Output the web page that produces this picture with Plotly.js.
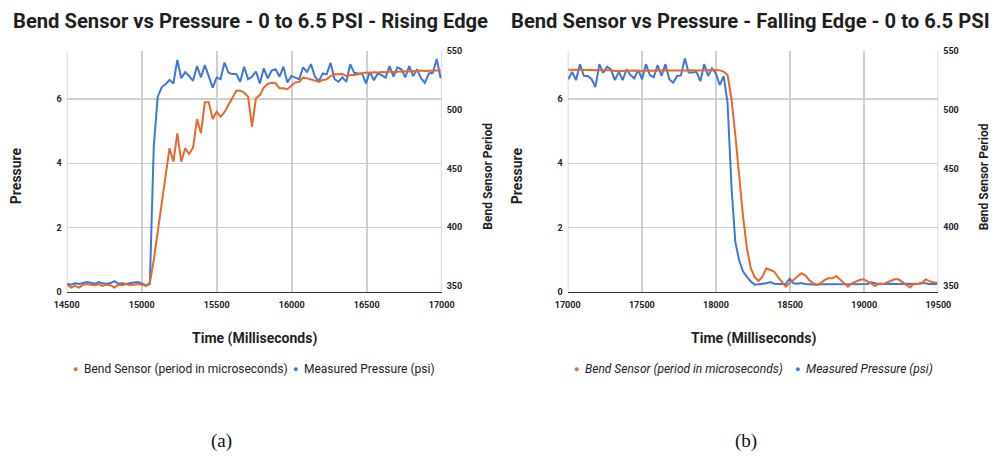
<!DOCTYPE html>
<html>
<head>
<meta charset="utf-8">
<script src="https://cdn.plot.ly/plotly-3.0.1.min.js"></script>
<style>
  html, body { margin: 0; padding: 0; background: #ffffff; }
  #chart { width: 998px; height: 457px; }
</style>
</head>
<body>
<div id="chart"></div>
<script>
// ---------------- DATA ----------------
const seriesNames = ["Bend Sensor (period in microseconds)", "Measured Pressure (psi)"];
const chartTitles = ["Bend Sensor vs Pressure - 0 to 6.5 PSI - Rising Edge",
                     "Bend Sensor vs Pressure - Falling Edge - 0 to 6.5 PSI"];
const xAxisTitle = "Time (Milliseconds)";
const leftAxisTitle = "Pressure";
const rightAxisTitle = "Bend Sensor Period";
const captions = ["(a)", "(b)"];

// sample spacing (ms) and first sample time of each recording
const sampleStepMs = 26.2;
const riseStartMs = 14504;
const fallStartMs = 17004;

const riseTicks = [14500, 15000, 15500, 16000, 16500, 17000];
const fallTicks = [17000, 17500, 18000, 18500, 19000, 19500];
const pressureTicks = [0, 2, 4, 6];
const periodTicks = [350, 400, 450, 500, 550];

// Rising edge: measured pressure (psi)
const risePressure = [
  0.25, 0.22, 0.26, 0.24, 0.27, 0.30, 0.28, 0.25, 0.30, 0.26, 0.25, 0.27, 0.33, 0.25, 0.26, 0.24,
  0.27, 0.28, 0.30, 0.26, 0.20, 0.23,
  4.52, 6.07, 6.37, 6.46, 6.60, 6.49,
  7.22, 6.65, 6.84, 6.72, 6.57, 7.03, 6.68, 7.06, 6.70, 6.36, 6.67, 6.62, 7.14, 6.82, 6.78, 6.78,
  6.54, 7.01, 6.62, 6.70, 6.86, 6.49, 6.96, 6.65, 6.89, 6.93, 6.70, 7.01, 6.52, 6.72,
  6.67, 6.62, 6.99, 6.85, 7.09, 6.70, 6.56, 6.80, 6.77, 7.13, 6.62, 6.54, 6.68, 6.54, 7.09, 6.82,
  6.80, 6.80, 6.49, 6.85, 6.59, 6.80, 6.75, 6.67, 7.03, 6.70, 6.99, 6.93, 6.68, 7.03, 6.72, 6.93,
  6.65, 6.51, 6.80, 6.82, 7.25, 6.65
];
// Rising edge: bend sensor period (microseconds)
const riseBend = [
  351, 348.5, 350, 348.5, 351, 351.5, 351, 350.5, 351.5, 350, 351, 350.5, 348.5, 351, 350.5, 351.5,
  350.5, 351, 351.5, 351, 350, 352.5,
  372, 396, 420, 444,
  467.1, 455.7, 479.9, 455.7, 467.1, 462.3, 467.7, 491.8, 479.9, 506.3, 506.3, 492.1, 498.3, 494.1,
  497.8, 504, 509.7, 516.2, 516.2, 514.5, 511.1, 485.5, 509.7, 512.5, 518.8, 521.9, 523, 522.5,
  518.2, 518.2, 517.4, 520.2, 523.3, 523.6,
  527.3, 526.7, 525.9, 524.8, 523.9, 525.3, 525.9, 528.7, 530.2, 530.2, 530.5, 528.7, 529.6, 529.6,
  530.2, 531.0, 531.6, 531.3, 531.9, 531.6, 532.2, 531.9, 532.5, 532.2, 532.5, 532.2, 532.8, 532.5,
  533.0, 532.8, 533.3, 533.0, 533.3, 533.6, 533.3, 533.3
];
// Falling edge: measured pressure (psi)
const fallPressure = [
  6.62, 6.85, 6.59, 7.09, 6.73, 6.72, 6.62, 6.38, 7.09, 6.82, 7.01, 6.93, 6.59, 6.85, 6.59, 6.93,
  6.75, 6.65, 6.91, 6.62, 7.09, 6.75, 6.68, 7.06, 6.72, 7.09, 6.62, 6.51, 6.72, 6.74, 7.27, 6.83,
  6.83, 6.85, 6.56, 7.09, 6.72, 6.96, 6.80, 6.44, 6.72,
  5.9, 3.3, 1.55, 0.98, 0.63, 0.46, 0.32,
  0.22, 0.23, 0.23, 0.26, 0.30, 0.25, 0.24, 0.25, 0.24, 0.41, 0.26, 0.25, 0.27, 0.24, 0.23, 0.23,
  0.22, 0.23, 0.23, 0.24, 0.25, 0.24, 0.24, 0.24, 0.23, 0.24, 0.24, 0.23, 0.24, 0.24, 0.29, 0.25,
  0.23, 0.24, 0.25, 0.25, 0.24, 0.23, 0.24, 0.25, 0.24, 0.23, 0.24, 0.28, 0.25, 0.24, 0.25, 0.24
];
// Falling edge: bend sensor period (microseconds)
const fallBend = [
  534, 534, 534.2, 534, 534.2, 534, 533.8, 533.5, 533.5, 533.8, 533.7, 533.5, 533, 532.8, 533, 533.2,
  533.5, 533.3, 533, 533.3, 533.5, 533.3, 533.2, 533.5, 533.3, 533.5, 533.3, 533.2, 533.5, 533.5,
  533.3, 533.5, 533.3, 533.2,
  533.3, 533.5, 533.8, 533.8, 533.8, 533.5, 532.5, 529.6, 509.7, 478.5, 444.4, 408.9, 382, 364.9,
  357.3, 354.1, 357.8, 364.9, 363.5, 362.2, 357.3, 353.5, 349.3, 352.2, 355, 358.4, 360.7, 359,
  355, 352.2, 350.7, 352.2, 355, 356.4, 356.4, 358.4, 355.5, 353, 349.3, 352.2, 353.5, 355,
  355.5, 354, 352, 349.8, 352, 351.5, 353, 354.5, 355.5, 355.5, 353, 351, 348.7, 352, 351.5, 352,
  355.5, 354, 353, 352.7
];

// ---------------- STYLE ----------------
const ORANGE = "#e8672b";
const BLUE = "#3c78d8";
const FONT = "Roboto, 'Noto Sans', sans-serif";
const GRID = "#cfcfcf";
const W = 998, H = 457;
const fx = v => v / W;
const fy = v => 1 - v / H;

const plotTop = 51, plotBottom = 291.7;
const leftDom = [fx(66.7), fx(441.7)];
const rightDom = [fx(567.7), fx(938.3)];
const yDom = [fy(plotBottom), fy(plotTop)];

function lineTrace(y, x0, xa, ya, color, name) {
  return { type: "scatter", mode: "lines", y: y, x0: x0, dx: sampleStepMs,
           xaxis: xa, yaxis: ya, name: name, showlegend: false, hoverinfo: "skip",
           line: { color: color, width: 2 } };
}

const traces = [
  lineTrace(riseBend, riseStartMs, "x", "y2", ORANGE, seriesNames[0]),
  lineTrace(risePressure, riseStartMs, "x", "y", BLUE, seriesNames[1]),
  lineTrace(fallBend, fallStartMs, "x2", "y4", ORANGE, seriesNames[0]),
  lineTrace(fallPressure, fallStartMs, "x2", "y3", BLUE, seriesNames[1])
];

const tickFont = { family: FONT, size: 9, color: "#222", weight: 700 };

function xAxis(dom, ticks, anchor) {
  return { domain: dom, range: [ticks[0], ticks[ticks.length - 1]], tickvals: ticks, tickformat: "d",
           anchor: anchor, showgrid: true, gridcolor: GRID, gridwidth: 1.6,
           showline: true, linecolor: "#333", linewidth: 1.3, zeroline: false, ticks: "",
           ticklabelstandoff: 4, tickfont: tickFont, fixedrange: true, layer: "above traces" };
}
function yLeft(anchor) {
  return { domain: yDom, range: [0, 7.5], tickvals: pressureTicks, anchor: anchor,
           showgrid: true, gridcolor: GRID, gridwidth: 1.6, zeroline: false,
           showline: false, ticks: "", ticklabelstandoff: 4, tickfont: tickFont, fixedrange: true };
}
function yRight(over, anchor) {
  return { domain: yDom, range: [345, 550], tickvals: periodTicks, overlaying: over, side: "right",
           anchor: anchor, showgrid: false, zeroline: false, showline: false, ticks: "",
           ticklabelstandoff: 4, tickfont: tickFont, fixedrange: true };
}

// edge gridlines (Plotly omits gridlines at the exact range ends)
const shapes = [];
[["x", "y", riseTicks], ["x2", "y3", fallTicks]].forEach(([xa, ya, ticks]) => {
  [ticks[0], ticks[ticks.length - 1]].forEach(t => {
    shapes.push({ type: "line", xref: xa, yref: ya + " domain", x0: t, x1: t, y0: 0, y1: 1,
                  layer: "below", line: { color: GRID, width: 1.6 } });
  });
});

const ann = [];
function addText(text, x, y, size, opts) {
  ann.push(Object.assign({ text: text, x: fx(x), y: fy(y), xref: "paper", yref: "paper",
    showarrow: false, xanchor: "center", yanchor: "middle",
    font: { family: FONT, size: size, color: "#1f1f1f" } }, opts || {}));
}
// panel-specific positions
const panels = [
  { cx: 251, plotL: 66.7, plotR: 441.7, legendX: [75, 295], italic: false },
  { cx: 750.4, plotL: 567.7, plotR: 938.3, legendX: [576, 797], italic: true }
];
panels.forEach((p, k) => {
  addText("<b>" + chartTitles[k] + "</b>", p.cx, 21, 20.2);
  addText("<b>" + leftAxisTitle + "</b>", p.plotL - 50.5, 176, 14, { textangle: -90 });
  addText("<b>" + rightAxisTitle + "</b>", p.plotR + 46.5, 176.5, 12, { textangle: -90 });
  addText("<b>" + xAxisTitle + "</b>", (p.plotL + p.plotR) / 2, 338.5, 14);
  const colors = [ORANGE, BLUE];
  seriesNames.forEach((nm, j) => {
    addText("●", p.legendX[j], 368.5, 9, { font: { family: FONT, size: 9, color: colors[j] } });
    addText(p.italic ? "<i>" + nm + "</i>" : nm, p.legendX[j] + 7, 368.5, 12,
            { xanchor: "left", font: { family: FONT, size: 12, color: "#222" } });
  });
});
const capFont = { family: "'Liberation Serif', 'DejaVu Serif', serif", size: 19, color: "#111" };
addText(captions[0], 221, 441, 19, { font: capFont });
addText(captions[1], 746, 441, 19, { font: capFont });

const layout = {
  width: W, height: H, margin: { l: 0, r: 0, t: 0, b: 0 },
  paper_bgcolor: "#ffffff", plot_bgcolor: "#ffffff",
  showlegend: false, font: { family: FONT },
  xaxis: xAxis(leftDom, riseTicks, "y"),
  yaxis: yLeft("x"),
  yaxis2: yRight("y", "x"),
  xaxis2: xAxis(rightDom, fallTicks, "y3"),
  yaxis3: yLeft("x2"),
  yaxis4: yRight("y3", "x2"),
  shapes: shapes,
  annotations: ann
};

Plotly.newPlot("chart", traces, layout, { staticPlot: true, displayModeBar: false });
</script>
</body>
</html>
